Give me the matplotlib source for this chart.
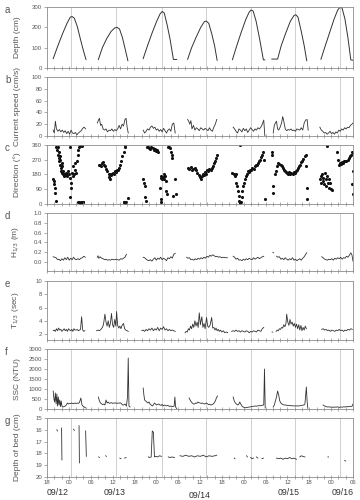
import matplotlib
matplotlib.use('Agg')
import matplotlib.pyplot as plt
import numpy as np

nan = np.nan

# time axis: hours from 18:00 of the first day
hour_ticks = [0, 6, 12, 18, 24, 30, 36, 42, 48, 54, 60, 66, 72, 78, 84]
hour_labels = ['18', '00', '06', '12', '18', '00', '06', '12', '18', '00', '06', '12', '18', '00', '06']
high_tides = [6.6, 18.9, 31.5, 43.6, 55.9, 68.2, 80.4]
date_labels = ['09/12', '09/13', '09/14', '09/15', '09/16']
date_pos = [3.0, 18.7, 42.0, 66.2, 81.3]

# (a) water depth, cm
depth_t = [1.7, 3.0, 4.3, 5.5, 6.4, 6.9, 7.5, 8.3, 9.2, 10.0, 10.7, nan,
           14.1, 15.2, 16.4, 17.6, 18.6, 19.2, 19.9, 20.7, 21.5, 22.2, nan,
           26.4, 27.6, 28.8, 30.0, 31.0, 31.6, 32.2, 33.0, 33.8, 34.7, 35.6, nan,
           38.6, 39.7, 40.9, 42.2, 43.2, 43.7, 44.4, 45.2, 46.0, 46.7, nan,
           50.9, 52.1, 53.3, 54.6, 55.5, 56.0, 56.6, 57.4, 58.4, 59.4, 59.8, nan,
           61.7, 63.3, 64.3, 65.5, 66.8, 67.8, 68.3, 68.9, 69.8, 70.6, 71.3, nan,
           75.2, 76.4, 77.6, 78.8, 79.8, 80.4, 81.0, 81.8, 82.6, 83.4, 84.0]
depth_v = [46, 110, 170, 220, 250, 253, 245, 205, 140, 85, 42, nan,
           42, 100, 145, 180, 197, 200, 192, 150, 90, 36, nan,
           46, 110, 170, 225, 265, 278, 270, 210, 140, 42, 42, nan,
           43, 100, 150, 200, 228, 231, 220, 170, 110, 38, nan,
           41, 110, 175, 240, 275, 285, 280, 230, 140, 40, 40, nan,
           44, 44, 110, 170, 230, 258, 262, 250, 180, 110, 36, nan,
           43, 110, 175, 240, 285, 298, 295, 240, 150, 40, 38]

# (b) current speed, cm/s
speed_t = [1.7, 2.0, 2.3, 2.6, 3.0, 3.4, 3.8, 4.2, 4.6, 5.0, 5.4, 5.8, 6.2, 6.6, 7.0, 7.4, 7.8, 8.2, 8.6, 9.0, 9.4, 9.8, 10.2, 10.6, nan,
           13.8, 14.2, 14.4, 14.7, 15.0, 15.4, 15.8, 16.2, 16.6, 17.0, 17.4, 17.8, 18.2, 18.6, 19.0, 19.4, 19.8, 20.2, 20.6, 21.0, 21.4, 21.7, 22.0, 22.3, nan,
           26.4, 26.8, 27.2, 27.6, 28.0, 28.4, 28.8, 29.2, 29.6, 30.0, 30.4, 30.8, 31.2, 31.6, 32.0, 32.4, 32.8, 33.2, 33.6, 34.0, 34.4, 34.8, 35.2, nan,
           38.6, 38.9, 39.2, 39.5, 39.8, 40.2, 40.6, 41.0, 41.4, 41.8, 42.2, 42.6, 43.0, 43.4, 43.8, 44.2, 44.6, 45.0, 45.4, 45.8, 46.2, 46.6, nan,
           51.1, 51.5, 51.9, 52.3, 52.7, 53.1, 53.5, 53.9, 54.3, 54.7, 55.1, 55.5, 55.9, 56.3, 56.7, 57.1, 57.5, 57.9, 58.3, 58.7, 59.1, 59.5, 59.8, nan,
           62.1, 62.4, 62.7, 63.0, 63.3, 63.6, 64.0, 64.4, 64.7, 65.0, 65.4, 65.8, 66.2, 66.6, 67.0, 67.4, 67.8, 68.2, 68.6, 69.0, 69.4, 69.8, 70.2, 70.6, 71.0, 71.4, 71.7, nan,
           74.9, 75.3, 75.7, 76.1, 76.5, 76.9, 77.3, 77.7, 78.1, 78.5, 78.9, 79.3, 79.7, 80.1, 80.5, 80.9, 81.3, 81.7, 82.1, 82.5, 82.9, 83.3, 83.7, 84.0]
speed_v = [10, 5, 25, 12, 8, 11, 7, 10, 6, 9, 4, 8, 3, 10, 5, 4, 6, 2, 5, 7, 9, 13, 15, 12, nan,
           22, 28, 30, 18, 20, 12, 10, 12, 7, 10, 9, 12, 8, 11, 9, 12, 18, 12, 20, 17, 28, 30, 15, 5, nan,
           10, 5, 8, 12, 10, 15, 17, 13, 15, 10, 12, 8, 11, 7, 13, 9, 5, 10, 12, 8, 20, 22, 5, nan,
           28, 25, 20, 26, 12, 18, 10, 14, 12, 9, 14, 12, 10, 13, 11, 9, 14, 10, 8, 15, 20, 28, nan,
           15, 12, 8, 5, 12, 10, 7, 13, 9, 12, 6, 10, 14, 11, 8, 12, 10, 14, 12, 15, 20, 27, 0, nan,
           5, 18, 22, 25, 12, 10, 15, 22, 33, 25, 12, 9, 11, 10, 12, 9, 10, 8, 12, 11, 10, 14, 10, 22, 27, 28, 10, nan,
           15, 10, 8, 5, 6, 3, 5, 8, 4, 6, 3, 7, 5, 10, 8, 12, 10, 14, 12, 15, 14, 18, 20, 22]

# (c) current direction, degrees
dir_t = [1.7, 1.9, 2.0, 2.1, 2.2, 2.4, 2.6, 2.8, 2.9, 3.0, 3.2, 3.3, 3.4, 3.5, 3.6, 3.7, 3.8, 3.9, 4.0, 4.1, 4.2, 4.4, 4.5, 4.6, 4.8,
         5.0, 5.2, 5.4, 5.6, 5.8, 6.0, 6.2, 6.3, 6.4, 6.5, 6.6, 6.8, 7.0, 7.2, 7.4, 7.6, 7.8, 8.0, 8.2, 8.4, 8.6, 8.8, 9.0, 9.3, 9.6,
         8.6, 8.8, 9.0, 9.2, 9.4, 9.6, 9.8, 10.0,
         14.2, 14.5, 14.8, 15.1, 15.4, 15.7, 16.0, 16.3, 16.6, 16.9, 17.1, 17.3, 17.5, 17.7, 18.0, 18.3, 18.6, 18.9, 19.2, 19.5,
         19.8, 20.1, 20.4, 20.7, 21.0, 21.3, 21.5, 21.0, 21.2, 21.4, 21.6, 22.3,
         26.4, 26.6, 26.8, 27.0, 27.2, 27.4, 27.7, 28.0, 28.3, 28.6, 29.0, 29.3, 29.6, 30.0, 30.3, 30.6, 31.0, 31.2, 31.4,
         31.2, 31.4, 31.6, 31.8, 32.0, 32.2, 32.4, 32.6, 32.8, 33.0, 33.2, 33.5, 33.8, 34.0, 34.2, 34.4, 34.6, 35.1, 35.3,
         38.6, 39.0, 39.4, 39.8, 40.2, 40.6, 41.0, 41.3, 41.6, 41.9, 42.2, 42.5, 42.8, 43.1, 43.4, 43.7, 44.0, 44.3, 44.6, 44.9,
         45.2, 45.5, 45.8, 46.1, 46.4, 46.7,
         50.9, 51.2, 51.5, 51.8, 52.0, 52.2, 52.4, 52.6, 52.8, 53.0, 53.1, 53.2, 53.4, 53.6, 53.8, 54.0, 54.3, 54.6, 54.9, 55.2,
         55.5, 55.8, 56.1, 56.4, 56.7, 57.0, 57.3, 57.6, 57.9, 58.2, 58.5, 58.8, 59.1, 59.3, 59.5, 59.8,
         61.7, 61.9, 62.0, 62.1, 62.6, 62.9, 63.2, 63.5, 63.8, 64.1, 64.4, 64.7, 65.0, 65.3, 65.6, 65.9, 66.2, 66.5, 66.8, 67.1,
         67.4, 67.7, 68.0, 68.3, 68.6, 68.9, 69.2, 69.5, 69.8, 70.1, 70.4, 70.7, 71.0, 71.2, 71.3, 71.4,
         74.9, 75.1, 75.3, 75.5, 75.7, 75.9, 76.1, 76.3, 76.5, 76.7, 76.9, 77.1, 77.3, 77.5, 77.7, 77.9, 78.1, 76.8, 79.5, 79.9,
         80.1, 80.4, 80.7, 81.0, 81.3, 81.6, 81.9, 82.2, 82.5, 82.8, 83.1, 83.4, 83.7, 83.9, 83.8, 83.9, 84.0]
dir_v = [150, 140, 120, 100, 70, 20, 345, 330, 300, 350, 320, 280, 260, 290, 240, 270, 220, 200, 250, 190, 230, 180, 200, 170, 185,
         175, 190, 180, 170, 200, 180, 160, 350, 40, 100, 130, 190, 170, 230, 180, 210, 250, 190, 260, 300, 330, 345, 355, 360, 355,
         10, 15, 5, 12, 8, 15, 10, 12,
         235, 240, 230, 250, 255, 240, 230, 215, 200, 185, 165, 155, 175, 180, 190, 185, 200, 195, 210, 205,
         220, 240, 260, 290, 320, 350, 360, 10, 15, 5, 12, 35,
         150, 130, 110, 40, 20, 350, 345, 340, 335, 345, 340, 330, 335, 325, 330, 320, 100, 30, 10,
         170, 160, 150, 165, 180, 155, 170, 140, 80, 60, 345, 350, 340, 320, 300, 280, 50, 150, 60,
         220, 215, 225, 210, 215, 220, 205, 190, 175, 165, 155, 170, 180, 175, 195, 185, 205, 200, 215, 210,
         220, 230, 250, 265, 280, 300,
         190, 185, 170, 180, 130, 110, 80, 50, 20, 5, 360, 15, 40, 80, 110, 130, 150, 170, 185, 200,
         195, 210, 205, 220, 215, 230, 240, 235, 250, 260, 270, 285, 300, 320, 270, 30,
         320, 300, 110, 70, 180, 200, 230, 250, 245, 235, 230, 220, 210, 200, 195, 190, 185, 195, 180, 190,
         185, 195, 190, 200, 210, 220, 230, 240, 255, 265, 275, 290, 300, 230, 100, 30,
         150, 170, 130, 180, 140, 160, 120, 190, 150, 110, 170, 130, 150, 100, 130, 90, 85, 355, 320, 270,
         240, 250, 245, 255, 250, 260, 265, 260, 270, 280, 290, 300, 320, 310, 120, 60, 200]

# (d) significant wave height, m
hs_t = [1.7, 2.1, 2.5, 2.9, 3.3, 3.7, 4.1, 4.5, 4.9, 5.3, 5.7, 6.1, 6.5, 6.9, 7.3, 7.7, 8.1, 8.5, 8.9, 9.3, 9.7, 10.1, 10.5, nan,
        13.8, 14.0, 14.2, 14.6, 15.0, 15.4, 15.8, 16.2, 16.6, 17.0, 17.4, 17.8, 18.2, 18.6, 19.0, 19.4, 19.8, 20.2, 20.6, 21.0, 21.4, 21.8, nan,
        26.4, 26.8, 27.2, 27.6, 28.0, 28.4, 28.8, 29.2, 29.6, 30.0, 30.4, 30.8, 31.2, 31.6, 32.0, 32.4, 32.8, 33.2, 33.6, 34.0, 34.4, 34.8, 35.2, nan,
        38.3, 38.7, 39.1, 39.5, 39.9, 40.3, 40.7, 41.1, 41.5, 41.9, 42.3, 42.7, 43.1, 43.5, 43.9, 44.3, 44.7, 45.1, 45.5, 45.9, 46.3, 46.7,
        47.1, 47.5, 48.0, 48.5, 49.0, 49.5, nan,
        51.1, 51.5, 51.9, 52.3, 52.7, 53.1, 53.5, 53.9, 54.3, 54.7, 55.1, 55.5, 55.9, 56.3, 56.7, 57.1, 57.5, 57.9, 58.3, 58.7, 59.1, 59.5, nan,
        62.0, 62.2, nan,
        63.0, 63.4, 63.8, 64.2, 64.6, 65.0, 65.4, 65.8, 66.2, 66.6, 67.0, 67.4, 67.8, 68.2, 68.6, 69.0, 69.4, 69.8, 70.2, 70.6, 71.0, 71.3, nan,
        75.4, 75.8, 76.2, 76.6, 77.0, 77.4, 77.8, 78.2, 78.6, 79.0, 79.4, 79.8, 80.2, 80.6, 81.0, 81.4, 81.8, 82.2, 82.6, 83.0, 83.4, 83.7, 84.0]
hs_v = [0.11, 0.10, 0.09, 0.05, 0.06, 0.03, 0.07, 0.04, 0.09, 0.05, 0.10, 0.04, 0.08, 0.05, 0.10, 0.06, 0.05, 0.07, 0.05, 0.08, 0.09, 0.12, 0.10, nan,
        0.10, 0.13, 0.08, 0.11, 0.08, 0.07, 0.05, 0.06, 0.04, 0.05, 0.04, 0.06, 0.05, 0.05, 0.06, 0.05, 0.04, 0.07, 0.06, 0.08, 0.10, 0.16, nan,
        0.10, 0.09, 0.06, 0.04, 0.03, 0.05, 0.02, 0.06, 0.09, 0.04, 0.08, 0.06, 0.10, 0.05, 0.08, 0.06, 0.03, 0.09, 0.07, 0.11, 0.08, 0.16, 0.18, nan,
        0.10, 0.08, 0.09, 0.05, 0.06, 0.04, 0.07, 0.05, 0.08, 0.06, 0.09, 0.07, 0.10, 0.08, 0.12, 0.10, 0.14, 0.12, 0.15, 0.13, 0.11, 0.12,
        0.10, 0.11, 0.09, 0.10, 0.09, 0.09, nan,
        0.12, 0.10, 0.06, 0.08, 0.04, 0.05, 0.03, 0.06, 0.04, 0.07, 0.05, 0.08, 0.06, 0.05, 0.09, 0.06, 0.08, 0.10, 0.07, 0.09, 0.11, 0.12, nan,
        0.20, 0.19, nan,
        0.12, 0.10, 0.11, 0.06, 0.08, 0.05, 0.09, 0.06, 0.04, 0.07, 0.05, 0.09, 0.04, 0.06, 0.03, 0.05, 0.07, 0.04, 0.08, 0.11, 0.16, 0.19, nan,
        0.11, 0.09, 0.06, 0.05, 0.04, 0.06, 0.05, 0.07, 0.04, 0.08, 0.06, 0.09, 0.07, 0.10, 0.06, 0.09, 0.08, 0.12, 0.10, 0.14, 0.19, 0.15, 0.02]

# (e) significant wave period, s
tp_t = [1.7, 2.0, 2.3, 2.6, 2.9, 3.2, 3.5, 3.8, 4.1, 4.4, 4.7, 5.0, 5.3, 5.6, 5.9, 6.2, 6.5, 6.8, 7.1, 7.4, 7.7, 8.0, 8.3, 8.6, 8.9, 9.2, 9.5, 9.8, 10.1, 10.4, nan,
        13.6, 14.0, 14.4, 14.8, 15.2, 15.5, 15.9, 16.2, 16.5, 16.8, 17.1, 17.4, 17.7, 18.0, 18.3, 18.6, 18.9, 19.1, 19.4, 19.7, 20.0, 20.3, 20.6, 21.0, 21.3, 21.6, 22.0, 22.3, nan,
        26.0, 26.4, 26.8, 27.2, 27.6, 28.0, 28.4, 28.8, 29.2, 29.6, 30.0, 30.4, 30.8, 31.2, 31.6, 32.0, 32.4, 32.8, 33.2, 33.6, 34.0, 34.4, 34.8, 35.2, nan,
        37.9, 38.2, 38.5, 38.8, 39.1, 39.4, 39.7, 40.0, 40.3, 40.6, 40.9, 41.2, 41.5, 41.8, 42.1, 42.5, 42.8, 43.1, 43.4, 43.8, 44.1, 44.4, 44.8, 45.2, 45.5,
        45.8, 46.1, 46.4, 46.7, 47.0, 47.3, 47.6, 48.0, 48.4, 48.8, 49.2, 49.6, nan,
        50.7, 51.1, 51.5, 51.9, 52.3, 52.7, 53.1, 53.5, 53.9, 54.3, 54.7, 55.1, 55.5, 55.9, 56.3, 56.7, 57.1, 57.5, 57.9, 58.3, 58.7, 59.1, 59.5, nan,
        61.8, 62.0, nan,
        62.9, 63.2, 63.5, 63.8, 64.1, 64.4, 64.7, 65.0, 65.3, 65.6, 65.8, 66.1, 66.4, 66.7, 67.0, 67.3, 67.6, 67.9, 68.2, 68.5, 68.8, 69.1, 69.4, 69.7,
        70.0, 70.3, 70.6, 70.9, 71.2, nan,
        75.4, 75.8, 76.2, 76.6, 77.0, 77.4, 77.8, 78.2, 78.6, 79.0, 79.4, 79.8, 80.2, 80.6, 81.0, 81.4, 81.8, 82.2, 82.6, 83.0, 83.4, 83.8]
tp_v = [2.5, 2.6, 2.4, 2.8, 2.5, 2.9, 2.6, 2.7, 2.4, 2.6, 2.8, 2.5, 2.7, 2.4, 2.8, 2.6, 2.5, 2.7, 2.4, 2.8, 2.6, 2.6, 2.7, 2.5, 2.6, 2.7, 4.6, 2.6, 2.4, 2.5, nan,
        2.5, 2.6, 2.5, 2.7, 3.0, 3.4, 5.0, 3.8, 3.2, 4.0, 3.0, 3.6, 5.1, 3.4, 3.0, 4.2, 3.2, 5.4, 3.3, 2.9, 3.2, 2.8, 3.3, 3.6, 2.8, 2.6, 2.5, 2.4, nan,
        2.5, 2.6, 2.4, 2.7, 2.5, 2.8, 2.6, 2.9, 2.5, 2.8, 2.6, 3.0, 2.5, 2.9, 2.7, 3.1, 2.6, 2.8, 2.5, 2.7, 2.5, 2.6, 2.5, 2.4, nan,
        2.2, 2.4, 2.3, 2.8, 2.6, 3.2, 2.8, 3.5, 3.0, 4.0, 3.2, 3.8, 3.0, 5.2, 3.4, 4.6, 3.0, 3.6, 2.8, 4.5, 3.2, 3.0, 3.4, 4.5, 2.9,
        3.0, 2.6, 2.9, 2.5, 2.7, 2.4, 2.6, 2.3, 2.5, 2.2, 2.3, 2.2, nan,
        2.4, 2.5, 2.4, 2.6, 2.4, 2.5, 2.3, 2.5, 2.4, 2.3, 2.5, 2.4, 2.2, 2.4, 2.3, 2.5, 2.4, 2.3, 2.6, 2.5, 2.4, 2.8, 3.0, nan,
        2.3, 2.3, nan,
        2.4, 2.6, 2.5, 2.8, 2.7, 3.0, 2.9, 3.4, 3.1, 3.6, 5.0, 3.8, 3.3, 4.2, 3.5, 3.8, 3.2, 3.6, 3.0, 3.5, 2.8, 3.4, 2.6, 3.3,
        2.5, 3.0, 2.6, 3.2, 2.8, nan,
        2.7, 2.8, 2.6, 2.7, 2.5, 2.6, 2.4, 2.6, 2.5, 2.4, 2.6, 2.5, 2.7, 2.5, 2.6, 2.4, 2.6, 2.5, 2.7, 2.6, 2.8, 2.7]

# (f) suspended sediment concentration, NTU
ssc_t = [1.7, 1.9, 2.1, 2.3, 2.5, 2.7, 2.9, 3.1, 3.3, 3.5, 3.7, 3.9, 4.1, 4.4, 4.7, 5.0, 5.3, 5.6, 5.9, 6.2, 6.5, 6.8, 7.1, 7.4, 7.7,
         8.0, 8.3, 8.6, 8.9, 9.3, 9.6, 10.0, 10.4, 10.8, nan,
         14.1, 14.4, 14.7, 15.0, 15.3, 15.6, 15.9, 16.2, 16.5, 16.8, 17.1, 17.4, 17.7, 18.0, 18.3, 18.6, 18.9, 19.2, 19.5, 19.8,
         20.1, 20.4, 20.7, 21.0, 21.4, 21.8, 22.1, 22.3, 22.5, 22.8, nan,
         26.4, 26.6, 26.8, 27.1, 27.4, 27.7, 28.0, 28.3, 28.6, 28.9, 29.2, 29.5, 29.8, 30.1, 30.4, 30.7, 31.0, 31.3, 31.6, 31.9,
         32.2, 32.5, 32.8, 33.1, 33.4, 33.7, 34.0, 34.3, 34.6, 34.9, 35.1, 35.3, 35.6, nan,
         39.0, 39.3, 39.6, 39.9, 40.2, 40.5, 40.8, 41.1, 41.4, 41.7, 42.0, 42.3, 42.6, 42.9, 43.2, 43.5, 43.8, 44.1, 44.4, 44.7,
         45.0, 45.3, 45.6, 45.9, 46.2, 46.5, 46.8, nan,
         51.1, 51.4, 51.7, 52.0, 52.3, 52.6, 52.9, 53.2, 53.5, 53.8, 54.1, 54.4, 54.7, 55.0, 55.3, 55.6, 55.9, 56.2, 56.5, 56.8,
         57.1, 57.4, 57.7, 58.0, 58.3, 58.6, 58.9, 59.2, 59.5, 59.7, 59.9, nan,
         62.1, 62.4, 62.7, 63.0, 63.3, 63.6, 63.9, 64.2, 64.5, 64.8, 65.1, 65.4, 65.7, 66.0, 66.3, 66.6, 66.9, 67.2, 67.5, 67.8,
         68.1, 68.4, 68.7, 69.0, 69.3, 69.6, 69.9, 70.2, 70.5, 70.8, 71.2, 71.4, 71.6, nan,
         75.8, 76.2, 76.6, 77.0, 77.4, 77.8, 78.2, 78.6, 79.0, 79.4, 79.8, 80.2, 80.6, 81.0, 81.4, 81.8, 82.2, 82.6, 83.0, 83.4, 83.8, 84.0]
ssc_v = [900, 500, 350, 800, 250, 750, 150, 600, 200, 450, 120, 400, 150, 100, 120, 150, 200, 300, 250, 280, 270, 300, 260, 280, 300,
         270, 300, 280, 320, 550, 200, 120, 80, 40, nan,
         600, 400, 300, 250, 220, 250, 200, 450, 300, 350, 280, 300, 320, 280, 300, 290, 310, 280, 300, 290,
         310, 280, 200, 200, 250, 150, 600, 2550, 150, 100, nan,
         1050, 700, 450, 400, 350, 300, 350, 250, 200, 150, 200, 300, 250, 200, 230, 250, 200, 180, 230, 150,
         200, 180, 150, 180, 160, 120, 150, 130, 120, 150, 600, 100, 20, nan,
         550, 450, 350, 300, 250, 250, 300, 280, 350, 320, 300, 280, 300, 270, 250, 280, 300, 250, 220, 240,
         200, 220, 250, 300, 400, 550, 650, nan,
         600, 400, 300, 250, 200, 220, 350, 250, 150, 100, 80, 60, 70, 80, 90, 100, 110, 120, 130, 140,
         150, 140, 150, 160, 170, 160, 180, 190, 200, 2000, 50, nan,
         100, 200, 400, 600, 900, 700, 400, 300, 250, 220, 200, 200, 190, 180, 180, 170, 170, 160, 160, 150,
         160, 150, 160, 150, 160, 170, 180, 190, 200, 250, 1100, 400, 30, nan,
         200, 150, 120, 100, 110, 90, 100, 80, 100, 90, 110, 80, 100, 90, 110, 100, 120, 110, 130, 120, 150, 250]

# (g) depth of bed, cm
bed_t = [2.7, 2.9, nan, 4.0, 4.1, nan, 7.3, 7.5, nan, 8.8, 8.9, nan, 10.6, 10.8, nan,
         14.2, 14.4, nan, 16.1, 16.3, nan, 20.0, 20.3, nan, 21.3, 21.7, nan,
         27.8, 28.2, 28.6, 28.9, 29.2, 29.5, 29.9, 30.4, 30.9, 31.4, nan,
         33.3, 33.8, 34.3, 35.0, nan,
         36.5, 37.3, 38.1, 38.9, 39.7, 40.5, 41.3, 42.1, 42.9, 43.7, 44.5, 45.3, 46.1, 46.6, nan,
         51.4, 51.6, nan, 54.8, 55.0, nan, 55.9, 56.3, 56.7, nan, 57.5, 57.9, nan, 59.0, 59.4, nan,
         63.0, 63.6, 64.2, 64.8, 65.4, 66.0, 66.6, 67.2, 67.8, 68.5, nan,
         69.4, 69.8, 70.2, 70.8, nan, 77.1, 77.3, nan, 81.7, 82.0]
bed_v = [16.0, 16.1, nan, 15.85, 18.55, nan, 15.95, 16.05, nan, 15.65, 18.8, nan, 16.1, 18.25, nan,
         18.3, 18.35, nan, 18.2, 18.25, nan, 18.4, 18.45, nan, 18.4, 18.35, nan,
         18.3, 18.35, 18.3, 16.1, 16.2, 18.3, 18.25, 18.3, 18.2, 18.25, nan,
         18.3, 18.35, 18.3, 18.35, nan,
         18.2, 18.25, 18.15, 18.25, 18.2, 18.3, 18.2, 18.25, 18.15, 18.3, 18.2, 18.25, 18.2, 18.15, nan,
         18.4, 18.45, nan, 18.2, 18.3, nan, 18.35, 18.45, 18.4, nan, 18.3, 18.4, nan, 18.45, 18.4, nan,
         18.4, 18.45, 18.4, 18.5, 18.4, 18.45, 18.35, 18.45, 18.4, 18.5, nan,
         18.3, 18.2, 18.25, 18.3, nan, 18.3, 18.3, nan, 18.6, 18.65]

plt.rcParams['font.family'] = ['Liberation Sans', 'DejaVu Sans']

line_col = '#333333'
txt_col = '#555555'
spine_col = '#8c8c8c'

fig = plt.figure(figsize=(3.6, 5.0), dpi=100)

# pixel boxes (top, bottom) of the seven panels
tops = [7, 77, 145, 213, 281, 349, 418]
bots = [68, 136, 204, 271, 340, 409, 477]
letters = ['a', 'b', 'c', 'd', 'e', 'f', 'g']
ylabels = ['Depth (cm)', 'Current speed (cm/s)', 'Direction (\u00b0)', 'H$_{1/3}$ (m)',
           'T$_{1/3}$ (sec)', 'SSC (NTU)', 'Depth of bed (cm)']
ylims = [(0, 300), (0, 100), (0, 360), (-0.18, 1.0), (1.1, 10), (0, 3000), (20, 15)]
yticks = [[0, 100, 200, 300], [0, 20, 40, 60, 80, 100], [0, 90, 180, 270, 360],
          [0.0, 0.2, 0.4, 0.6, 0.8, 1.0], [2, 4, 6, 8, 10],
          [0, 500, 1000, 1500, 2000, 2500, 3000], [15, 16, 17, 18, 19, 20]]
yfmt = ['%d', '%d', '%d', '%.1f', '%d', '%d', '%d']

axes = []
for i in range(7):
    ax = fig.add_axes([47 / 360, 1 - bots[i] / 500, 306 / 360, (bots[i] - tops[i]) / 500])
    axes.append(ax)
    ax.set_xlim(0, 84)
    ax.set_ylim(*ylims[i])
    ax.set_yticks(yticks[i])
    ax.set_yticklabels([yfmt[i] % v for v in yticks[i]])
    ax.set_xticks(hour_ticks)
    ax.set_xticks(np.arange(0, 85, 2), minor=True)
    if i < 6:
        ax.set_xticklabels([])
    else:
        ax.set_xticklabels(hour_labels)
    ax.tick_params(axis='x', which='both', direction='inout', length=2.5, width=0.5,
                   colors=spine_col, labelcolor=txt_col, labelsize=4.3, pad=1.2)
    ax.tick_params(axis='y', direction='out', length=2, width=0.5,
                   colors=spine_col, labelcolor=txt_col, labelsize=4.3, pad=1.5)
    for s in ax.spines.values():
        s.set_color(spine_col)
        s.set_linewidth(0.6)
    for ht in high_tides:
        ax.axvline(ht, color='#c8c8c8', lw=0.6, zorder=0)
    ax.set_ylabel(ylabels[i], fontsize=6, color=txt_col, labelpad=2)
    ax.yaxis.set_label_coords(-0.085, 0.5)
    fig.text(5 / 360, 1 - (tops[i] + 3) / 500, letters[i], fontsize=7, color=txt_col,
             ha='left', va='center')

axes[0].plot(depth_t, depth_v, color=line_col, lw=0.7)
axes[1].plot(speed_t, speed_v, color=line_col, lw=0.6)
axes[2].scatter(dir_t, dir_v, s=5, color='#111111', linewidths=0)
axes[3].plot(hs_t, hs_v, color=line_col, lw=0.6)
axes[4].plot(tp_t, tp_v, color=line_col, lw=0.6)
axes[5].plot(ssc_t, ssc_v, color=line_col, lw=0.6)
axes[6].plot(bed_t, bed_v, color=line_col, lw=0.6)

for lab, pos in zip(date_labels, date_pos):
    yoff = -0.31 if lab == '09/14' else -0.27
    axes[6].text(pos, yoff, lab, transform=axes[6].get_xaxis_transform(),
                 fontsize=6.3, color='#333333', ha='center', va='center')

plt.savefig('out.png', dpi=100)
